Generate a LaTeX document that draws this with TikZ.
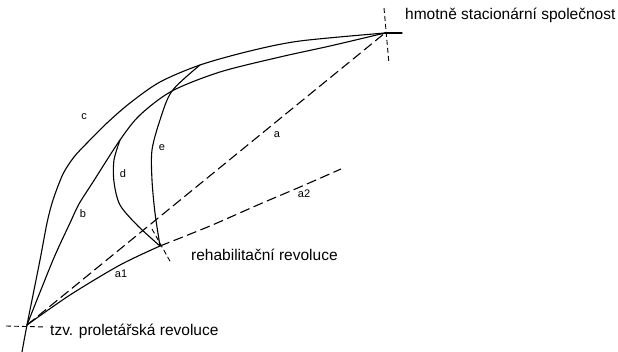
\documentclass[tikz,border=0pt]{standalone}
\usepackage{fontspec}
\setmainfont{Liberation Sans}
\begin{document}
\begin{tikzpicture}[x=1pt,y=-1pt,
  curve/.style={line width=1.1pt, line join=round, line cap=round},
  dline/.style={line width=1.1pt, dash pattern=on 10pt off 4.5pt},
  sdash/.style={line width=0.9pt, dash pattern=on 5pt off 3pt},
  lbl/.style={font=\fontsize{11}{12}\selectfont, inner sep=0pt},
  txt/.style={font=\fontsize{15.5}{18}\selectfont, inner sep=0pt, anchor=base west}]
\useasboundingbox (0,0) rectangle (618,352);
\coordinate (P) at (27,325);
\coordinate (R) at (160,246);
\coordinate (S) at (385,33);
\coordinate (Pbot) at (22,352);
\coordinate (Send) at (402,33);
\coordinate (Ce) at (200,65);
\coordinate (Bd) at (120,140);
\coordinate (A2end) at (341,169);
\coordinate (Rt) at (152,229);
\coordinate (Rb) at (171,263);
\coordinate (St) at (384,8);
\coordinate (Sb) at (389,64);
\coordinate (Pl) at (6,326);
\coordinate (Pr) at (46,327);
% c
\draw[curve] plot[smooth] coordinates {(Pbot) (P) (40,260) (47,223) (53,200) (63,174) (74,157) (87,143) (107,123) (130,103) (160,82) (Ce) (250,51) (300,41) (S)};
\draw[curve] (S) -- (Send);
% b
\draw[curve] plot[smooth] coordinates {(P) (53,260) (70,223) (79,204) (93,182) (Bd) (140,115) (172,91) (220,72) (280,57) (330,46) (S)};
% d
\draw[curve] plot[smooth] coordinates {(Bd) (114,160) (114,182) (120,205) (138,226) (R)};
% e
\draw[curve] plot[smooth] coordinates {(Ce) (172,91) (160,120) (152,150) (152,180) (155,213) (R)};
% a1
\draw[curve] plot[smooth] coordinates {(P) (70,295) (120,265) (R)};
% a2
\draw[dline] plot[smooth] coordinates {(R) (210,226) (260,204) (300,187) (A2end)};
% a
\draw[dline] (P) -- (S);
% marks
\draw[sdash] (Rt) -- (Rb);
\draw[sdash] (St) -- (Sb);
\draw[sdash] (Pl) -- (Pr);
% labels
\node[lbl] (la) at (277,135) {a};
\node[lbl] (la1) at (121,274) {a1};
\node[lbl] (la2) at (304,194) {a2};
\node[lbl] (lb) at (83,214) {b};
\node[lbl] (lc) at (84,117) {c};
\node[lbl] (ld) at (123,174) {d};
\node[lbl] (le) at (162,148) {e};
\node[txt] (ts) at (405,20) {hmotně stacionární společnost};
\node[txt] (tr) at (191,261) {rehabilitační revoluce};
\node[txt] (tp) at (50,336) {tzv. proletářská revoluce};
\end{tikzpicture}
\end{document}
